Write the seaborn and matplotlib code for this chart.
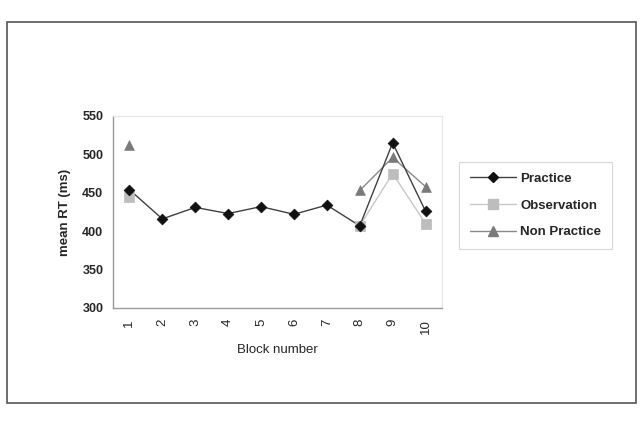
import numpy as np
import pandas as pd
import matplotlib
matplotlib.use("Agg")
import matplotlib.pyplot as plt
from matplotlib.patches import Rectangle
from matplotlib.lines import Line2D
import seaborn as sns

blocks = [1, 2, 3, 4, 5, 6, 7, 8, 9, 10]
practice = [454, 416, 431, 423, 432, 422, 434, 407, 515, 426]
observation = [444, np.nan, np.nan, np.nan, np.nan, np.nan, np.nan, 407, 475, 410]
non_practice = [512, np.nan, np.nan, np.nan, np.nan, np.nan, np.nan, 453, 496, 458]
series_names = ["Practice", "Observation", "Non Practice"]
y_ticks = [300, 350, 400, 450, 500, 550]

sns.set_style("white")
plt.rcParams["font.family"] = ["Liberation Sans", "DejaVu Sans"]

fig = plt.figure(figsize=(6.42, 4.22), dpi=100)
ax = fig.add_axes([113/642, 1-308/422, (442-113)/642, (308-116)/422])

styles = {
    "Practice": dict(line="#404040", mfc="#111111", marker="D", ms=5.5, lw=1.0),
    "Observation": dict(line="#c8c8c8", mfc="#bdbdbd", marker="s", ms=6.5, lw=1.0),
    "Non Practice": dict(line="#8a8a8a", mfc="#7a7a7a", marker="^", ms=7, lw=1.0),
}
values = {"Practice": practice, "Observation": observation, "Non Practice": non_practice}

for name in ["Observation", "Non Practice", "Practice"]:
    st = styles[name]
    df = pd.DataFrame({"block": blocks, "rt": values[name]})
    seg_id = df["rt"].isna().cumsum()
    valid = df.dropna()
    for sid, seg in valid.groupby(seg_id[valid.index]):
        if len(seg) > 1:
            sns.lineplot(data=seg, x="block", y="rt", ax=ax, color=st["line"],
                         linewidth=st["lw"], estimator=None, sort=False, legend=False)
    sns.scatterplot(data=valid, x="block", y="rt", ax=ax, marker=st["marker"],
                    color=st["mfc"], s=st["ms"]**2, edgecolor=st["mfc"], linewidth=0.5,
                    legend=False, zorder=5)

ax.set_xlim(0.5, 10.5)
ax.set_ylim(300, 550)
ax.set_yticks(y_ticks)
ax.set_yticklabels([str(v) for v in y_ticks], fontweight="bold", fontsize=9)
ax.set_xticks(blocks)
ax.set_xticklabels([str(b) for b in blocks], rotation=90, fontsize=9.5)
ax.set_xticks(np.arange(1.5, 10.5, 1.0), minor=True)
ax.tick_params(axis="x", which="major", length=0, pad=8)
ax.tick_params(axis="x", which="minor", length=4, direction="inout", color="#999999", width=0.8)
ax.tick_params(axis="y", which="major", length=4, direction="out", color="#999999", width=0.8, pad=3)

for side in ["left", "bottom"]:
    ax.spines[side].set_color("#9a9a9a")
    ax.spines[side].set_linewidth(1.0)
for side in ["top", "right"]:
    ax.spines[side].set_color("#e6e6e6")
    ax.spines[side].set_linewidth(0.8)

ax.set_xlabel("Block number", fontsize=9.5, labelpad=7)
ax.set_ylabel("mean RT (ms)", fontsize=9.5, fontweight="bold", labelpad=8)

handles = []
for name in series_names:
    st = styles[name]
    handles.append(Line2D([0], [0], color=st["line"], lw=1.0, marker=st["marker"],
                          markerfacecolor=st["mfc"], markeredgecolor=st["mfc"],
                          markersize=st["ms"]))
leg = fig.legend(handles, series_names, loc="upper left",
                 bbox_to_anchor=(459/642, 1-162/422), frameon=True, fancybox=False,
                 prop={"weight": "bold", "size": 9.5}, handlelength=3.5,
                 borderpad=0.8, labelspacing=1.1, handletextpad=0.35, borderaxespad=0)
leg.get_frame().set_edgecolor("#cfcfcf")
leg.get_frame().set_linewidth(0.8)

fig.patches.append(Rectangle((7/642, 1-403/422), 629/642, 381/422, transform=fig.transFigure,
                             fill=False, edgecolor="#555555", linewidth=1.2))

fig.savefig("out.png", dpi=100)
